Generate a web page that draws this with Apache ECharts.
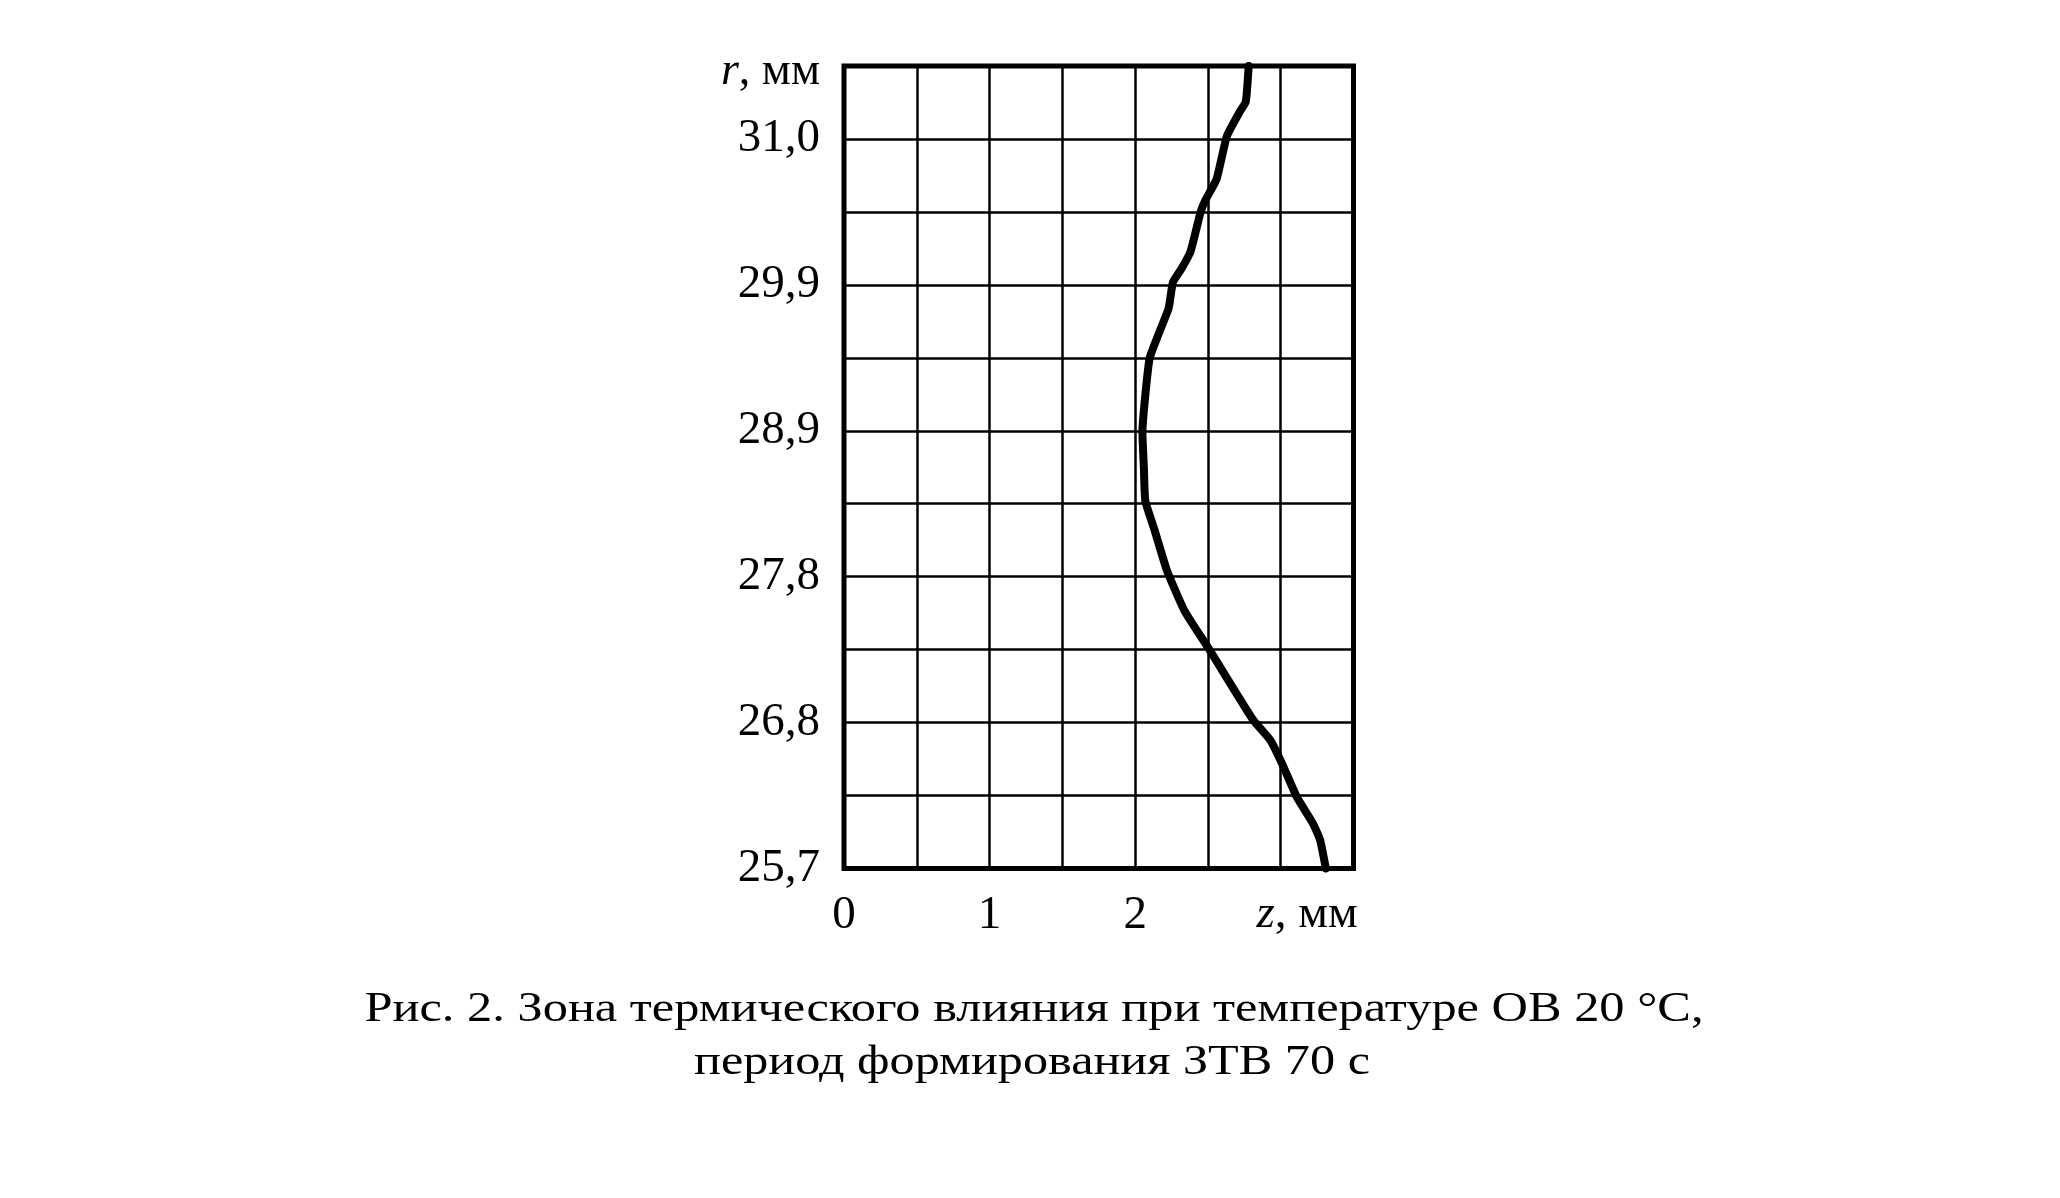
<!DOCTYPE html>
<html>
<head>
<meta charset="utf-8">
<script src="https://cdn.jsdelivr.net/npm/echarts@6/dist/echarts.min.js"></script>
<style>
html,body{margin:0;padding:0;background:#fff;}
#chart{width:2060px;height:1198px;}
</style>
</head>
<body>
<div id="chart"></div>
<script>
// z, mm (horizontal) and r, mm (vertical) along the heat-affected zone boundary
const zValues = [3.31, 3.27, 3.22, 3.11, 3.01, 2.93, 2.81, 2.51, 2.34, 2.22, 2.13, 2.07, 2.06, 2.05, 2.07, 2.10, 2.16, 2.23, 2.26, 2.32, 2.38, 2.45, 2.48, 2.56, 2.63, 2.72, 2.76, 2.78];
const rValues = [25.70, 25.91, 26.03, 26.22, 26.46, 26.63, 26.78, 27.29, 27.57, 27.86, 28.17, 28.37, 28.61, 28.87, 29.14, 29.41, 29.58, 29.77, 29.96, 30.06, 30.18, 30.47, 30.55, 30.71, 31.02, 31.20, 31.27, 31.53];

const xTickLabels = ['0', '1', '2'];
const yTickLabels = ['25,7', '26,8', '27,8', '28,9', '29,9', '31,0'];
const yMin = 25.7, yStep = 0.53, yCount = 11;
const xMin = 0, xStep = 0.5, xMax = 3.5;

const xName = 'z';
const yName = 'r';
const unit = ', мм';
const captionLines = [
  'Рис. 2. Зона термического влияния при температуре ОВ 20 °С,',
  'период формирования ЗТВ 70 с'
];

const chart = echarts.init(document.getElementById('chart'), null, {renderer: 'canvas'});

const FONT = '"Liberation Serif", "Times New Roman", serif';
const mctx = document.createElement('canvas').getContext('2d');
function measure(t, size) { mctx.font = size + 'px ' + FONT; return mctx.measureText(t).width; }

const capSize = 42;
const capTargets = [{cx: 1034, cy: 1010, w: 1339}, {cx: 1032, cy: 1063, w: 676}];

const data = zValues.map((z, i) => [z, rValues[i]]);

chart.setOption({
  backgroundColor: '#fff',
  animation: false,
  grid: {
    left: 844, right: 2060 - 1353.5, top: 66, bottom: 1198 - 868.5,
    show: true, borderColor: '#000', borderWidth: 5, containLabel: false
  },
  xAxis: {
    type: 'value', min: xMin, max: xMax, interval: xStep,
    axisLine: {show: false}, axisTick: {show: false},
    splitLine: {show: true, lineStyle: {color: '#000', width: 2.5}},
    axisLabel: {
      margin: 24, color: '#000', fontFamily: FONT, fontSize: 47,
      formatter: function (v) {
        const i = Math.round(v);
        if (Math.abs(v - i) < 1e-6 && i < xTickLabels.length) return xTickLabels[i];
        return '';
      }
    },
    name: '{i|' + xName + '}{u|' + unit + '}',
    nameLocation: 'end', nameGap: -97,
    nameTextStyle: {
      color: '#000', fontFamily: FONT, fontSize: 47, align: 'left', verticalAlign: 'middle',
      padding: [92, 0, 0, 0],
      rich: {
        i: {fontStyle: 'italic', fontFamily: FONT, fontSize: 47, color: '#000'},
        u: {fontFamily: FONT, fontSize: 47, color: '#000'}
      }
    }
  },
  yAxis: {
    type: 'value', min: yMin, max: +(yMin + yCount * yStep).toFixed(2), interval: yStep,
    axisLine: {show: false}, axisTick: {show: false},
    splitLine: {show: true, lineStyle: {color: '#000', width: 2.5}},
    axisLabel: {
      margin: 24, color: '#000', fontFamily: FONT, fontSize: 47,
      formatter: function (v) {
        const idx = Math.round((v - yMin) / yStep);
        if (idx % 2 === 0 && idx / 2 < yTickLabels.length) return yTickLabels[idx / 2];
        return '';
      }
    },
    name: '{i|' + yName + '}{u|' + unit + '}',
    nameLocation: 'end', nameGap: -6,
    nameTextStyle: {
      color: '#000', fontFamily: FONT, fontSize: 46, align: 'right', verticalAlign: 'middle',
      padding: [0, 24, 0, 0],
      rich: {
        i: {fontStyle: 'italic', fontFamily: FONT, fontSize: 46, color: '#000'},
        u: {fontFamily: FONT, fontSize: 46, color: '#000'}
      }
    }
  },
  series: [{
    type: 'line', data: data, showSymbol: false, smooth: 0.15,
    lineStyle: {color: '#000', width: 8, join: 'round', cap: 'round'},
    clip: false
  }],
  graphic: captionLines.map((t, i) => ({
    type: 'text',
    x: capTargets[i].cx, y: capTargets[i].cy,
    scaleX: capTargets[i].w / measure(t, capSize),
    style: {text: t, fill: '#000', font: capSize + 'px ' + FONT, align: 'center', verticalAlign: 'middle'}
  }))
});
</script>
</body>
</html>
